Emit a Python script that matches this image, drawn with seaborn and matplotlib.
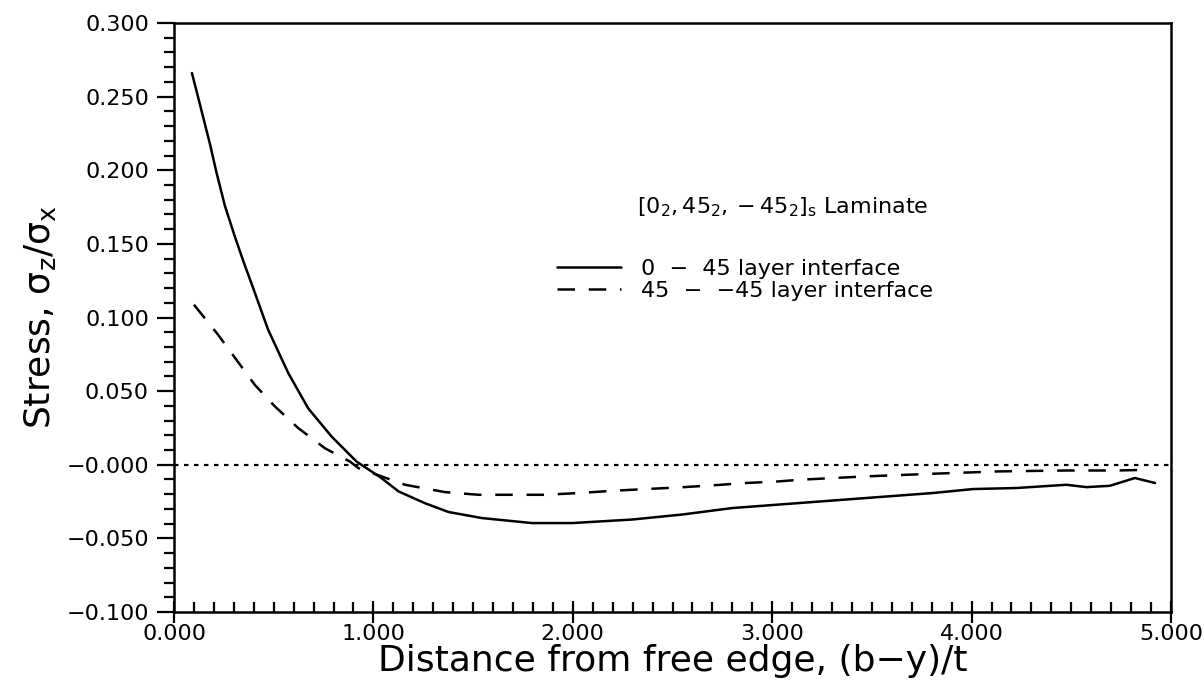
import matplotlib
matplotlib.use("Agg")
import matplotlib.pyplot as plt
import matplotlib.ticker as mticker
import pandas as pd
import seaborn as sns

# 0 - 45 layer interface (solid)
x_solid = [0.09, 0.137, 0.18, 0.213, 0.255, 0.305, 0.352, 0.389, 0.472, 0.573,
           0.673, 0.79, 0.916, 1.04, 1.126, 1.26, 1.377, 1.544, 1.795, 1.997,
           2.298, 2.549, 2.80, 3.136, 3.47, 3.806, 4.007, 4.225, 4.476, 4.576,
           4.693, 4.819, 4.92]
y_solid = [0.266, 0.241, 0.218, 0.1985, 0.176, 0.155, 0.1366, 0.123, 0.0917, 0.0623,
           0.0383, 0.0192, 0.0021, -0.009, -0.0181, -0.0262, -0.0321, -0.0362, -0.0396, -0.0396,
           -0.0372, -0.0338, -0.0294, -0.026, -0.0226, -0.0192, -0.0165, -0.0158, -0.0136, -0.0152,
           -0.0143, -0.009, -0.0124]

# 45 - -45 layer interface (dashed)
x_dash = [0.1, 0.221, 0.313, 0.405, 0.506, 0.623, 0.757, 0.883, 0.925, 1.159,
          1.36, 1.528, 1.695, 1.863, 2.03, 2.2, 2.365, 2.533, 2.70, 2.868,
          3.035, 3.136, 3.47, 3.806, 4.14, 4.476, 4.727, 4.894]
y_dash = [0.1087, 0.0883, 0.0713, 0.0543, 0.0396, 0.0249, 0.0112, 0.0021, -0.0023, -0.0136,
          -0.0186, -0.0204, -0.0204, -0.0204, -0.0192, -0.0177, -0.0165, -0.0154, -0.014, -0.0124,
          -0.0113, -0.0102, -0.0079, -0.0061, -0.0045, -0.0039, -0.0039, -0.0034]

x_ticks = [0, 1, 2, 3, 4, 5]
x_tick_labels = ["0.000", "1.000", "2.000", "3.000", "4.000", "5.000"]
y_ticks = [0.30, 0.25, 0.20, 0.15, 0.10, 0.05, 0.0, -0.05, -0.10]
y_tick_labels = ["0.300", "0.250", "0.200", "0.150", "0.100", "0.050",
                 "\u22120.000", "\u22120.050", "\u22120.100"]

solid_df = pd.DataFrame({"x": x_solid, "y": y_solid})
dash_df = pd.DataFrame({"x": x_dash, "y": y_dash})

sns.set_theme(style="ticks")
plt.rcParams["font.family"] = ["DejaVu Sans"]
plt.rcParams["mathtext.fontset"] = "dejavusans"
plt.rcParams["mathtext.default"] = "regular"
plt.rcParams["text.color"] = "black"
plt.rcParams["axes.labelcolor"] = "black"
plt.rcParams["xtick.color"] = "black"
plt.rcParams["ytick.color"] = "black"

fig = plt.figure(figsize=(12.04, 6.87), dpi=100)
ax = fig.add_axes([174 / 1204, 1 - 612 / 687, (1171 - 174) / 1204, (612 - 23) / 687])

sns.lineplot(data=solid_df, x="x", y="y", ax=ax, color="black", lw=1.8,
             label="0  \u2212  45 layer interface", sort=False, estimator=None)
sns.lineplot(data=dash_df, x="x", y="y", ax=ax, color="black", lw=1.8,
             dashes=False, label="45  \u2212  \u221245 layer interface",
             sort=False, estimator=None)
ax.lines[1].set_linestyle((0, (7, 5.5)))
ax.axhline(0, color="black", lw=1.6, ls=(0, (2, 2.5)))

ax.set_xlim(0, 5)
ax.set_ylim(-0.1, 0.3)
ax.set_xticks(x_ticks)
ax.set_xticklabels(x_tick_labels)
ax.set_yticks(y_ticks)
ax.set_yticklabels(y_tick_labels)
ax.xaxis.set_minor_locator(mticker.MultipleLocator(0.1))
ax.yaxis.set_minor_locator(mticker.MultipleLocator(0.01))

ax.tick_params(axis="x", which="major", direction="inout", length=16, width=1.6,
               labelsize=16, pad=1)
ax.tick_params(axis="x", which="minor", direction="in", length=7, width=1.6)
ax.tick_params(axis="y", which="major", direction="out", length=12, width=1.6,
               labelsize=16, pad=6)
ax.tick_params(axis="y", which="minor", direction="out", length=7, width=1.6)
for s in ax.spines.values():
    s.set_linewidth(1.8)
    s.set_color("black")

ax.set_xlabel("Distance from free edge, (b\u2212y)/t", fontsize=26, labelpad=0)
ax.set_ylabel(r"Stress, $\sigma_z/\sigma_x$", fontsize=26, labelpad=6)

ax.text(2.32, 0.175, r"$[0_2,45_2,-45_2]_s$ Laminate", fontsize=16, va="center")
ax.legend(loc="center left", bbox_to_anchor=(1.92, 0.1255), bbox_transform=ax.transData,
          frameon=False, fontsize=16, handlelength=2.9, handletextpad=0.9,
          labelspacing=0.1, borderpad=0, borderaxespad=0)

fig.savefig("out.png", dpi=100)
